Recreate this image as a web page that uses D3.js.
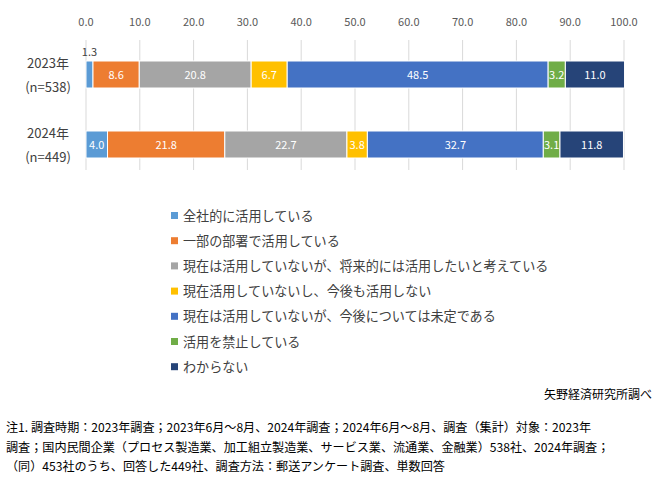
<!DOCTYPE html><html><head><meta charset="utf-8"><script src="https://cdn.jsdelivr.net/npm/d3@7"></script>
<style>body{margin:0;background:#fff}text{font-family:"Noto Sans CJK JP",sans-serif}</style></head><body><svg id="c" width="672" height="494"></svg>
<script>
const categories=["2023年\n(n=538)","2024年\n(n=449)"];
const seriesNames=["全社的に活用している","一部の部署で活用している","現在は活用していないが、将来的には活用したいと考えている","現在活用していないし、今後も活用しない","現在は活用していないが、今後については未定である","活用を禁止している","わからない"];
const values2023=[1.3,8.6,20.8,6.7,48.5,3.2,11.0];
const values2024=[4.0,21.8,22.7,3.8,32.7,3.1,11.8];
const ticks=[0,10,20,30,40,50,60,70,80,90,100];
const colors=["#5B9BD5","#ED7D31","#A5A5A5","#FFC000","#4472C4","#70AD47","#264478"];
const notes=["注1. 調査時期：2023年調査；2023年6月～8月、2024年調査；2024年6月～8月、調査（集計）対象：2023年","調査；国内民間企業（プロセス製造業、加工組立製造業、サービス業、流通業、金融業）538社、2024年調査；","（同）453社のうち、回答した449社、調査方法：郵送アンケート調査、単数回答"];
const data=[values2023,values2024];
const svg=d3.select("#c");
const x=d3.scaleLinear().domain([0,100]).range([86,624]);
const y=d3.scalePoint().domain(categories).range([74.5,144.5]);
svg.append("g").selectAll("line").data(ticks).join("line").attr("x1",d=>x(d)).attr("x2",d=>x(d)).attr("y1",40).attr("y2",170).attr("stroke","#d9d9d9");
svg.append("g").selectAll("text").data(ticks).join("text").attr("x",d=>x(d)).attr("y",26).attr("text-anchor","middle").attr("font-size",11).attr("fill","#595959").text(d=>d.toFixed(1));
const h=27;
data.forEach((vals,i)=>{
  const cat=categories[i];let cum=0;
  const g=svg.append("g");
  vals.forEach((v,j)=>{
    const x0=x(cum),x1=x(cum+v);cum+=v;
    g.append("rect").attr("x",x0).attr("width",x1-x0).attr("y",y(cat)-h/2).attr("height",h).attr("fill",colors[j]).attr("stroke","#fff").attr("stroke-width",1);
    const small=v<2;
    g.append("text").attr("x",(x0+x1)/2).attr("y",small?y(cat)-h/2-5:y(cat)+4).attr("text-anchor","middle").attr("font-size",11).attr("fill",small?"#404040":"#fff").text(v.toFixed(1));
  });
  cat.split("\n").forEach((l,k)=>svg.append("text").attr("x",48).attr("y",y(cat)-7+k*24).attr("text-anchor","middle").attr("font-size",13).attr("fill","#404040").text(l));
});
const lg=svg.append("g");
seriesNames.forEach((n,j)=>{
  const yy=216+j*25.2;
  lg.append("rect").attr("x",171).attr("y",yy-4).attr("width",7).attr("height",7).attr("fill",colors[j]);
  lg.append("text").attr("x",183).attr("y",yy+4.5).attr("font-size",13.1).attr("fill","#404040").text(n);
});
svg.append("text").attr("x",652).attr("y",399).attr("text-anchor","end").attr("font-size",12).attr("fill","#000").text("矢野経済研究所調べ");
notes.forEach((t,k)=>svg.append("text").attr("x",6).attr("y",432+k*19.5).attr("font-size",12.1).attr("fill","#000").text(t));
</script></body></html>
